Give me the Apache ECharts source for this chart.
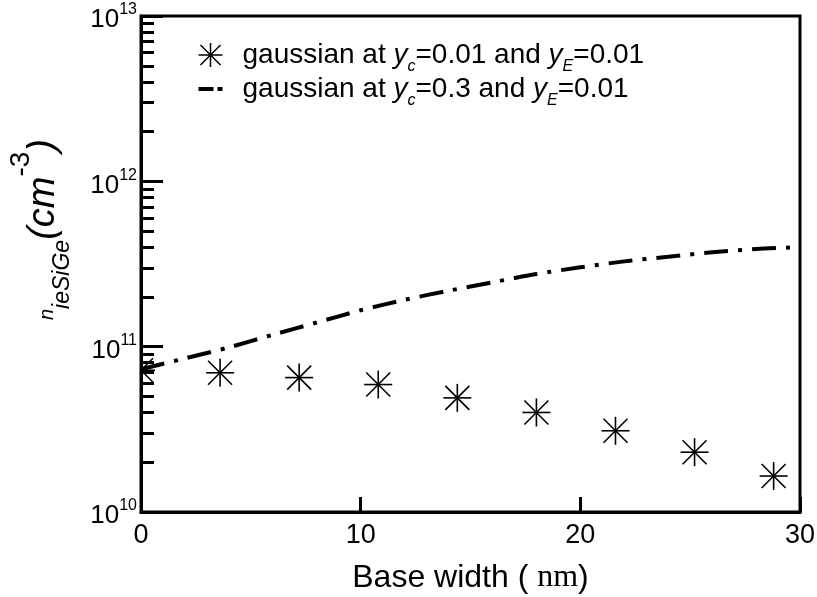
<!DOCTYPE html>
<html>
<head>
<meta charset="utf-8">
<script src="https://cdn.jsdelivr.net/npm/echarts@6/dist/echarts.min.js"></script>
<style>
  html, body { margin: 0; padding: 0; background: #fff; }
  #chart { width: 817px; height: 597px; }
</style>
</head>
<body>
<div id="chart"></div>
<script>
// series names (y_x marks a subscript)
const seriesNames = [
    'gaussian at y_c=0.01 and y_E=0.01',
    'gaussian at y_c=0.3 and y_E=0.01'
];

// star markers: base width (nm) / n_ieSiGe (cm^-3)
const starX = [0, 3.6, 7.2, 10.8, 14.4, 18, 21.6, 25.2, 28.8];
const starY = [7.2e10, 6.95e10, 6.5e10, 5.9e10, 4.9e10, 4.0e10, 3.1e10, 2.3e10, 1.65e10];

// dash-dot curve
const curveX = [0, 2, 4, 6, 8, 10, 12, 14, 16, 18, 20, 22, 24, 26, 28, 30];
const curveY = [7.3e10, 8.5e10, 9.9e10, 1.18e11, 1.40e11, 1.66e11, 1.92e11, 2.18e11,
                2.45e11, 2.75e11, 3.02e11, 3.28e11, 3.5e11, 3.72e11, 3.9e11, 4.0e11];

// x ticks
const xTicks = [0, 10, 20, 30];

// minor ticks of the log axis (2..9 in each decade)
const yMinorTicks = [
    2e10, 3e10, 4e10, 5e10, 6e10, 7e10, 8e10, 9e10,
    2e11, 3e11, 4e11, 5e11, 6e11, 7e11, 8e11, 9e11,
    2e12, 3e12, 4e12, 5e12, 6e12, 7e12, 8e12, 9e12
];

const FONT = 'Liberation Sans, Arial, sans-serif';
const STAR_PATH = 'path://M0 12L24 12M12 0L12 24M2 2L22 22M22 2L2 22';
const DASHDOT_PATH = 'path://M0 0L15 0L15 4L0 4ZM19 0L24 0L24 4L19 4Z';

const chart = echarts.init(document.getElementById('chart'));

// 이름 안의 y_c 같은 표기를 rich text로 변환
const legendLabel = name =>
    '{t|' + name.replace(/y_(\w)/g, '}{i|y}{s|$1}{t|') + '}';

// 선분을 사각형 영역으로 자르기 (Liang-Barsky)
function clipSegment(x1, y1, x2, y2, r) {
    let t0 = 0, t1 = 1;
    const dx = x2 - x1, dy = y2 - y1;
    const p = [-dx, dx, -dy, dy];
    const q = [x1 - r.x, r.x + r.width - x1, y1 - r.y, r.y + r.height - y1];
    for (let i = 0; i < 4; i++) {
        if (p[i] === 0) {
            if (q[i] < 0) return null;
        } else {
            const t = q[i] / p[i];
            if (p[i] < 0) { if (t > t1) return null; if (t > t0) t0 = t; }
            else { if (t < t0) return null; if (t < t1) t1 = t; }
        }
    }
    return { x1: x1 + t0 * dx, y1: y1 + t0 * dy, x2: x1 + t1 * dx, y2: y1 + t1 * dy };
}

const option = {
    animation: false,
    backgroundColor: '#fff',
    textStyle: { fontFamily: FONT, color: '#000' },
    grid: {
        left: 141, right: 17, top: 16, bottom: 85,
        show: true, borderColor: '#000', borderWidth: 3,
        containLabel: false, outerBoundsMode: 'none'
    },
    legend: {
        orient: 'vertical',
        left: 191, top: 30,
        itemWidth: 24, itemHeight: 24, itemGap: -6,
        data: [
            { name: seriesNames[0], icon: STAR_PATH,
              itemStyle: { color: 'none', borderColor: '#000', borderWidth: 1.5 } },
            { name: seriesNames[1], icon: DASHDOT_PATH,
              itemStyle: { color: '#000', borderWidth: 0 } }
        ],
        formatter: legendLabel,
        textStyle: {
            padding: [0, 0, 0, 15],
            rich: {
                t: { fontSize: 28, fontFamily: FONT, color: '#000', lineHeight: 28 },
                i: { fontSize: 28, fontFamily: FONT, fontStyle: 'italic', color: '#000', lineHeight: 28 },
                s: { fontSize: 16, fontFamily: FONT, fontStyle: 'italic', color: '#000',
                     lineHeight: 4, padding: [24, 0, 0, 0] }
            }
        }
    },
    xAxis: {
        type: 'value',
        min: xTicks[0], max: xTicks[xTicks.length - 1], interval: 10,
        name: '{a|Base width ( }{b|nm}{a|)}',
        nameLocation: 'middle', nameGap: 50,
        nameTextStyle: {
            rich: {
                a: { fontSize: 32, fontFamily: FONT, color: '#000' },
                b: { fontSize: 32, fontFamily: 'Liberation Serif, Times New Roman, serif', color: '#000' }
            }
        },
        axisLine: { lineStyle: { color: '#000', width: 3 } },
        axisTick: { inside: true, length: 15, lineStyle: { color: '#000', width: 3 } },
        axisLabel: { fontSize: 27, color: '#000', margin: 10, fontFamily: FONT },
        splitLine: { show: false }
    },
    yAxis: [
        {
            type: 'log', logBase: 10,
            min: 1e10, max: 1e13, splitNumber: 3,
            name: '{n|n}{s|ieSiGe}{p|(cm}{e|-3}{p|)}',
            nameLocation: 'middle', nameRotate: 90, nameGap: 65,
            nameTextStyle: {
                padding: [0, 0, 0, 69],
                rich: {
                    n: { fontSize: 20, fontFamily: FONT, fontStyle: 'italic', color: '#000',
                         lineHeight: 20, padding: [8, 0, 0, 0] },
                    s: { fontSize: 23, fontFamily: FONT, fontStyle: 'italic', color: '#000',
                         lineHeight: 20, padding: [38, 0, 0, 0] },
                    p: { fontSize: 38, fontFamily: FONT, fontStyle: 'italic', color: '#000',
                         lineHeight: 36 },
                    e: { fontSize: 28, fontFamily: FONT, color: '#000',
                         lineHeight: 20, padding: [0, 0, 44, 0] }
                }
            },
            axisLine: { lineStyle: { color: '#000', width: 3 } },
            axisTick: { inside: true, length: 22, lineStyle: { color: '#000', width: 3 } },
            axisLabel: {
                margin: 4,
                formatter: v => '{b|10}{e|' + Math.round(Math.log10(v)) + '}',
                rich: {
                    b: { fontSize: 26, fontFamily: FONT, color: '#000', lineHeight: 26,
                         padding: [8, 0, 0, 0] },
                    e: { fontSize: 16, fontFamily: FONT, color: '#000', lineHeight: 16,
                         padding: [0, 0, 12, 0] }
                }
            },
            splitLine: { show: false }
        },
        {
            // 보조축: 로그축 minor tick 표시용 (지수 공간)
            type: 'value', position: 'left',
            min: 10, max: 13,
            axisLine: { show: false },
            axisLabel: { show: false },
            axisTick: {
                inside: true, length: 13,
                lineStyle: { color: '#000', width: 3 },
                customValues: yMinorTicks.map(v => Math.log10(v))
            },
            splitLine: { show: false }
        }
    ],
    series: [
        {
            name: seriesNames[0],
            type: 'custom',
            itemStyle: { color: '#000' },
            data: starX.map((x, i) => [x, starY[i]]),
            renderItem: (params, api) => {
                const p = api.coord([api.value(0), api.value(1)]);
                const rect = params.coordSys;
                const r = 14, d = 12;
                const segs = [[-r, 0, r, 0], [0, -r, 0, r], [-d, -d, d, d], [-d, d, d, -d]];
                const children = [];
                segs.forEach(s => {
                    const c = clipSegment(p[0] + s[0], p[1] + s[1], p[0] + s[2], p[1] + s[3], rect);
                    if (c) {
                        children.push({ type: 'line', shape: c, style: { stroke: '#000', lineWidth: 1.6 } });
                    }
                });
                return { type: 'group', children };
            }
        },
        {
            name: seriesNames[1],
            type: 'line',
            symbol: 'none',
            smooth: 0.3,
            itemStyle: { color: '#000' },
            lineStyle: { color: '#000', width: 4, type: [24, 10, 4, 10], cap: 'butt' },
            data: curveX.map((x, i) => [x, curveY[i]])
        }
    ]
};

chart.setOption(option);
</script>
</body>
</html>
